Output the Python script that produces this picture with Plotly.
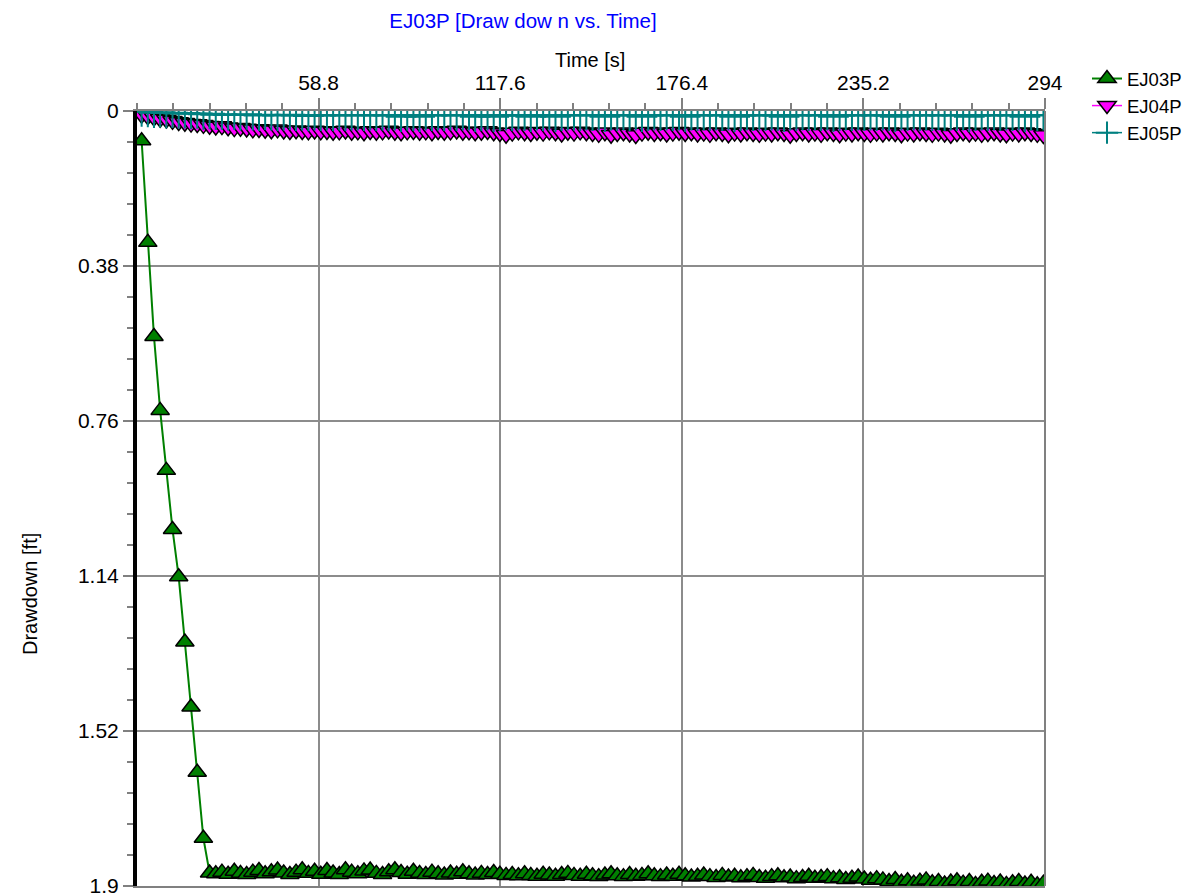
import plotly.graph_objects as go

# ---------------- data ----------------
time_s = [
    1.5, 3.5, 5.5, 7.5, 9.5, 11.5, 13.5, 15.5, 17.5, 19.5,
    21.5, 23.5, 25.5, 27.5, 29.5, 31.5, 33.5, 35.5, 37.5, 39.5,
    41.5, 43.5, 45.5, 47.5, 49.5, 51.5, 53.5, 55.5, 57.5, 59.5,
    61.5, 63.5, 65.5, 67.5, 69.5, 71.5, 73.5, 75.5, 77.5, 79.5,
    81.5, 83.5, 85.5, 87.5, 89.5, 91.5, 93.5, 95.5, 97.5, 99.5,
    101.5, 103.5, 105.5, 107.5, 109.5, 111.5, 113.5, 115.5, 117.5, 119.5,
    121.5, 123.5, 125.5, 127.5, 129.5, 131.5, 133.5, 135.5, 137.5, 139.5,
    141.5, 143.5, 145.5, 147.5, 149.5, 151.5, 153.5, 155.5, 157.5, 159.5,
    161.5, 163.5, 165.5, 167.5, 169.5, 171.5, 173.5, 175.5, 177.5, 179.5,
    181.5, 183.5, 185.5, 187.5, 189.5, 191.5, 193.5, 195.5, 197.5, 199.5,
    201.5, 203.5, 205.5, 207.5, 209.5, 211.5, 213.5, 215.5, 217.5, 219.5,
    221.5, 223.5, 225.5, 227.5, 229.5, 231.5, 233.5, 235.5, 237.5, 239.5,
    241.5, 243.5, 245.5, 247.5, 249.5, 251.5, 253.5, 255.5, 257.5, 259.5,
    261.5, 263.5, 265.5, 267.5, 269.5, 271.5, 273.5, 275.5, 277.5, 279.5,
    281.5, 283.5, 285.5, 287.5, 289.5, 291.5, 293.5,
]

ej03p = [
    0.073, 0.322, 0.553, 0.734, 0.881, 1.026, 1.142, 1.302, 1.461, 1.621,
    1.783, 1.868, 1.870, 1.866, 1.871, 1.864, 1.869, 1.872, 1.866, 1.862,
    1.870, 1.865, 1.861, 1.868, 1.872, 1.866, 1.860, 1.869, 1.864, 1.871,
    1.862, 1.868, 1.872, 1.860, 1.866, 1.870, 1.863, 1.861, 1.869, 1.872,
    1.865, 1.860, 1.867, 1.871, 1.864, 1.869, 1.872, 1.866, 1.870, 1.873,
    1.868, 1.871, 1.865, 1.870, 1.873, 1.869, 1.872, 1.867, 1.871, 1.874,
    1.872, 1.875, 1.870, 1.874, 1.876, 1.871, 1.873, 1.876, 1.872, 1.869,
    1.874, 1.876, 1.871, 1.875, 1.877, 1.873, 1.870, 1.875, 1.877, 1.872,
    1.876, 1.874, 1.870, 1.875, 1.877, 1.873, 1.876, 1.871, 1.875, 1.878,
    1.876, 1.873, 1.877, 1.879, 1.874, 1.878, 1.876, 1.880, 1.877, 1.874,
    1.879, 1.881, 1.877, 1.875, 1.880, 1.878, 1.882, 1.879, 1.876, 1.881,
    1.879, 1.877, 1.882, 1.880, 1.884, 1.881, 1.878, 1.883, 1.886, 1.882,
    1.885, 1.889, 1.884, 1.891, 1.887, 1.893, 1.888, 1.885, 1.892, 1.889,
    1.895, 1.890, 1.887, 1.893, 1.889, 1.896, 1.891, 1.888, 1.894, 1.890,
    1.896, 1.892, 1.889, 1.895, 1.891, 1.897, 1.893,
]

ej04p = [
    0.009, 0.013, 0.016, 0.019, 0.021, 0.024, 0.027, 0.029, 0.031, 0.032,
    0.034, 0.036, 0.038, 0.037, 0.040, 0.042, 0.041, 0.043, 0.045, 0.044,
    0.046, 0.047, 0.045, 0.048, 0.049, 0.047, 0.049, 0.050, 0.048, 0.050,
    0.049, 0.051, 0.050, 0.048, 0.051, 0.050, 0.052, 0.049, 0.051, 0.050,
    0.048, 0.051, 0.052, 0.050, 0.049, 0.051, 0.050, 0.052, 0.049, 0.051,
    0.050, 0.048, 0.051, 0.050, 0.052, 0.051, 0.049, 0.052, 0.054, 0.058,
    0.053, 0.050, 0.052, 0.054, 0.051, 0.053, 0.050, 0.052, 0.055, 0.051,
    0.053, 0.050, 0.052, 0.054, 0.056, 0.052, 0.058, 0.054, 0.052, 0.055,
    0.059, 0.053, 0.051, 0.054, 0.052, 0.055, 0.053, 0.051, 0.054, 0.052,
    0.055, 0.053, 0.056, 0.052, 0.054, 0.057, 0.053, 0.055, 0.052, 0.054,
    0.056, 0.053, 0.055, 0.052, 0.054, 0.058, 0.054, 0.052, 0.055, 0.053,
    0.056, 0.052, 0.054, 0.057, 0.053, 0.055, 0.052, 0.054, 0.056, 0.053,
    0.055, 0.052, 0.054, 0.057, 0.053, 0.055, 0.052, 0.054, 0.056, 0.053,
    0.055, 0.058, 0.054, 0.052, 0.055, 0.053, 0.056, 0.054, 0.052, 0.055,
    0.057, 0.053, 0.055, 0.052, 0.054, 0.056, 0.059,
]

ej05p = [
    0.001, 0.002, 0.004, 0.003, 0.005, 0.004, 0.006, 0.005, 0.007, 0.006,
    0.008, 0.007, 0.009, 0.008, 0.010, 0.009, 0.010, 0.008, 0.010, 0.011,
    0.009, 0.010, 0.011, 0.010, 0.009, 0.011, 0.010, 0.012, 0.010, 0.011,
    0.010, 0.011, 0.010, 0.011, 0.010, 0.010, 0.011, 0.010, 0.011, 0.010,
    0.011, 0.010, 0.014, 0.010, 0.011, 0.014, 0.010, 0.011, 0.010, 0.011,
    0.010, 0.011, 0.010, 0.010, 0.014, 0.011, 0.010, 0.014, 0.011, 0.010,
    0.011, 0.010, 0.011, 0.014, 0.010, 0.011, 0.010, 0.014, 0.011, 0.010,
    0.010, 0.011, 0.010, 0.011, 0.010, 0.014, 0.010, 0.011, 0.010, 0.011,
    0.010, 0.014, 0.011, 0.010, 0.011, 0.010, 0.011, 0.010, 0.014, 0.010,
    0.011, 0.010, 0.011, 0.010, 0.011, 0.010, 0.014, 0.011, 0.010, 0.011,
    0.010, 0.011, 0.010, 0.011, 0.014, 0.010, 0.011, 0.010, 0.011, 0.010,
    0.011, 0.010, 0.014, 0.011, 0.010, 0.011, 0.010, 0.011, 0.010, 0.011,
    0.010, 0.011, 0.014, 0.010, 0.011, 0.010, 0.011, 0.010, 0.011, 0.010,
    0.011, 0.010, 0.011, 0.010, 0.014, 0.011, 0.010, 0.011, 0.010, 0.011,
    0.010, 0.011, 0.010, 0.014, 0.010, 0.011, 0.010,
]

x_ticks = [58.8, 117.6, 176.4, 235.2, 294]
x_tick_labels = ["58.8", "117.6", "176.4", "235.2", "294"]
y_ticks = [0, 0.38, 0.76, 1.14, 1.52, 1.9]
y_tick_labels = ["0", "0.38", "0.76", "1.14", "1.52", "1.9"]

# ---------------- figure ----------------
FONT = "Arial, 'Liberation Sans', sans-serif"
OFF = 8                      # page body margin of the html page
W, H = 1199 - OFF, 894
L, T = 137 - OFF, 111 - OFF  # plot area left / top in figure coords
PR, PB = 1045 - OFF, 886 - OFF
R, B = W - PR, H - PB
PW, PH = PR - L, PB - T


def px(xp):   # page x -> paper x
    return (xp - OFF - L) / PW


def py(yp):   # page y -> paper y
    return (PB - (yp - OFF)) / PH


fig = go.Figure()
fig.add_trace(go.Scatter(
    x=time_s, y=ej03p, name="EJ03P", mode="lines+markers",
    line=dict(color="#008000", width=2),
    marker=dict(symbol="triangle-up", size=16, color="#008000",
                line=dict(color="black", width=1.5)),
))
fig.add_trace(go.Scatter(
    x=time_s, y=ej04p, name="EJ04P", mode="lines+markers",
    line=dict(color="#FF00FF", width=1.5),
    marker=dict(symbol="triangle-down", size=17, color="#FF00FF",
                line=dict(color="black", width=1.5)),
))
fig.add_trace(go.Scatter(
    x=time_s, y=ej05p, name="EJ05P", mode="lines+markers",
    line=dict(color="#008080", width=1.5),
    marker=dict(symbol="cross-thin", size=22, color="#008080",
                line=dict(color="#008080", width=2)),
))

GRID = "#8c8c8c"
fig.update_xaxes(
    side="top", range=[0, 294], tickmode="array",
    tickvals=x_ticks, ticktext=x_tick_labels,
    showgrid=True, gridcolor=GRID, gridwidth=2,
    showline=True, linecolor="#808080", linewidth=2, mirror=True,
    ticks="outside", ticklen=11, tickwidth=2, tickcolor="#808080",
    minor=dict(tickmode="linear", tick0=0, dtick=11.76, ticks="outside",
               ticklen=6, tickwidth=1.5, tickcolor="#808080", showgrid=False),
    tickfont=dict(family=FONT, size=21, color="black"),
    ticklabeloverflow="allow",
    zeroline=False,
)
fig.update_yaxes(
    range=[1.9, 0], tickmode="array",
    tickvals=y_ticks, ticktext=y_tick_labels,
    showgrid=True, gridcolor=GRID, gridwidth=2,
    showline=True, linecolor="black", linewidth=4, mirror=False,
    ticks="outside", ticklen=10, tickwidth=2, tickcolor="#808080",
    minor=dict(tickmode="linear", tick0=0, dtick=0.076, ticks="outside",
               ticklen=6, tickwidth=1.5, tickcolor="#808080", showgrid=False),
    tickfont=dict(family=FONT, size=21, color="black"),
    ticklabeloverflow="allow",
    zeroline=False,
)

# right frame line
fig.add_shape(type="line", xref="paper", yref="paper", x0=1, x1=1, y0=0, y1=1,
              line=dict(color="#808080", width=2))

fig.add_annotation(text="Time [s]", xref="paper", yref="paper",
                   x=px(590), y=py(60), xanchor="center", yanchor="middle",
                   showarrow=False, font=dict(family=FONT, size=20, color="black"))
fig.add_annotation(text="Drawdown [ft]", xref="paper", yref="paper", textangle=-90,
                   x=px(30), y=py(594), xanchor="center", yanchor="middle",
                   showarrow=False, font=dict(family=FONT, size=20, color="black"))

fig.update_layout(
    width=W, height=H,
    margin=dict(l=L, r=R, t=T, b=B, autoexpand=False),
    paper_bgcolor="white", plot_bgcolor="white",
    title=dict(text="EJ03P [Draw dow n vs. Time]", x=(523 - OFF) / W, xref="container",
               xanchor="center", y=1 - (21 - OFF) / H, yanchor="middle",
               font=dict(family=FONT, size=20.5, color="#0000FF")),
    showlegend=True,
    legend=dict(x=px(1087), y=py(60), xanchor="left", yanchor="top",
                font=dict(family=FONT, size=18.5, color="black"),
                bgcolor="rgba(0,0,0,0)", tracegroupgap=0, itemwidth=30),
)

fig.write_html("out.html")
